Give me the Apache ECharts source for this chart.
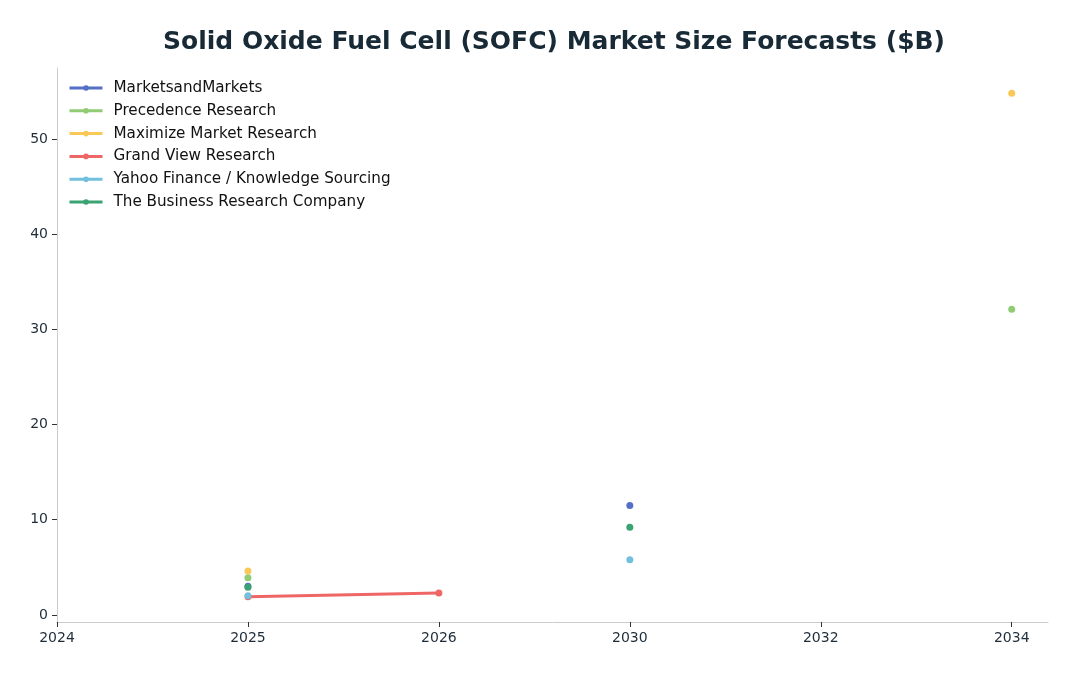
<!DOCTYPE html>
<html>
<head>
<meta charset="utf-8">
<script src="https://cdn.jsdelivr.net/npm/echarts@6/dist/echarts.min.js"></script>
<style>html,body{margin:0;padding:0;background:#fff;}#c{width:1079px;height:676px;}</style>
</head>
<body>
<div id="c"></div>
<script>
const years = ['2024', '2025', '2026', '2030', '2032', '2034'];
const seriesNames = ['MarketsandMarkets', 'Precedence Research', 'Maximize Market Research', 'Grand View Research', 'Yahoo Finance / Knowledge Sourcing', 'The Business Research Company'];
const marketsAndMarkets = [null, 3.0, null, 11.5, null, null];
const precedence = [null, 3.9, null, null, null, 32.1];
const maximize = [null, 4.6, null, null, null, 54.8];
const grandView = [null, 1.9, 2.3, null, null, null];
const yahooKS = [null, 2.0, null, 5.8, null, null];
const businessResearch = [null, 2.9, null, 9.2, null, null];
const yTicks = [0, 10, 20, 30, 40, 50];
const colors = ['#5470c6', '#91cc75', '#fac858', '#ee6666', '#73c0de', '#3ba272'];

const allSeries = [marketsAndMarkets, precedence, maximize, grandView, yahooKS, businessResearch];
const xTicks = years.map((y, i) => i);
const chart = echarts.init(document.getElementById('c'), null, {renderer: 'canvas'});
const font = 'DejaVu Sans';
chart.setOption({
  animation: false,
  color: colors,
  title: {
    text: 'Solid Oxide Fuel Cell (SOFC) Market Size Forecasts ($B)',
    left: 549, top: 25, textAlign: 'center',
    textStyle: {fontFamily: font, fontSize: 25, fontWeight: 'bold', color: '#172a36'}
  },
  legend: {
    left: 68, top: 80, padding: 0, orient: 'vertical', itemGap: 6.8, itemWidth: 33, itemHeight: 7,
    lineStyle: {width: 3},
    textStyle: {fontFamily: font, fontSize: 15.2, lineHeight: 16, color: '#111', padding: [0, 0, 0, 6]},
    data: seriesNames
  },
  grid: {left: 57, right: 31, top: 68, bottom: 54, containLabel: false},
  xAxis: {
    type: 'value', min: 0, max: 5.19,
    axisLine: {show: true, onZero: false, lineStyle: {color: '#cccccc', width: 1}},
    axisTick: {show: true, length: 5, lineStyle: {color: '#333'}, customValues: xTicks},
    splitLine: {show: false},
    axisLabel: {fontFamily: font, fontSize: 14, color: '#1f2d3a', margin: 9, customValues: xTicks,
      formatter: v => years[Math.round(v)]}
  },
  yAxis: {
    type: 'value', min: -0.745, max: 57.445,
    axisLine: {show: true, lineStyle: {color: '#cccccc', width: 1}},
    axisTick: {show: true, length: 5, lineStyle: {color: '#333'}, customValues: yTicks},
    splitLine: {show: false},
    axisLabel: {fontFamily: font, fontSize: 14, color: '#1f2d3a', margin: 9, customValues: yTicks}
  },
  series: allSeries.map((arr, si) => ({
    name: seriesNames[si],
    type: 'line',
    data: arr.map((v, i) => [i, v === null ? '-' : v]),
    connectNulls: false,
    symbol: 'circle', symbolSize: 7, showSymbol: true,
    lineStyle: {width: 3, color: colors[si]},
    itemStyle: {color: colors[si]},
    emphasis: {disabled: true}
  }))
});
</script>
</body>
</html>
